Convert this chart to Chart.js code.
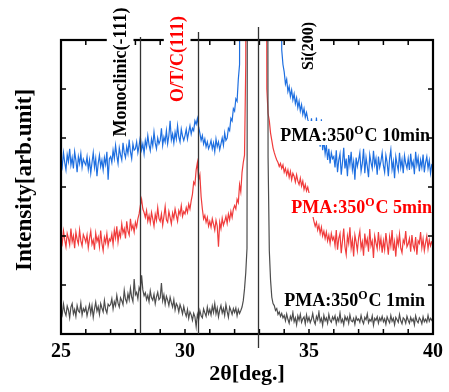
<!DOCTYPE html>
<html>
<head>
<meta charset="utf-8">
<script src="https://cdn.jsdelivr.net/npm/chart.js@4.4.1/dist/chart.umd.min.js"></script>
<style>
  html, body { margin: 0; padding: 0; background: #fff; }
</style>
</head>
<body>
<canvas id="chart" width="449" height="392"></canvas>
<script>
// 2theta sampling grid: 25.00 .. 40.00 in 0.05 deg steps
const thetaStart = 25;
const thetaStep = 0.05;
const xTickLabels = [25, 30, 35, 40];

// intensities (arb. units), one row per degree; 20 = off-scale Si peak
const pma1min = [
  0.52,0.40,0.61,0.45,0.38,0.57,0.49,0.33,0.55,0.62,0.41,0.50,0.36,0.58,0.47,0.44,0.63,0.39,0.52,0.46,
  0.55,0.37,0.49,0.60,0.42,0.58,0.34,0.51,0.65,0.47,0.56,0.40,0.62,0.53,0.45,0.68,0.50,0.43,0.61,0.57,
  0.60,0.72,0.51,0.66,0.58,0.79,0.63,0.55,0.74,0.68,0.60,0.89,0.71,0.64,0.82,0.70,0.93,0.75,0.66,1.12,
  0.80,0.85,0.72,0.95,0.88,1.20,0.90,0.78,0.84,0.70,0.79,0.66,0.88,0.74,0.69,0.81,0.62,0.76,0.85,0.70,
  0.74,1.04,0.68,0.80,0.61,0.77,0.69,0.58,0.75,0.64,0.55,0.70,0.49,0.62,0.57,0.45,0.60,0.52,0.41,0.56,
  0.44,0.36,0.50,0.32,0.45,0.39,0.28,0.42,0.35,0.15,0.40,0.30,0.48,0.37,0.33,0.51,0.43,0.36,0.55,0.41,
  0.50,0.39,0.57,0.44,0.62,0.41,0.53,0.35,0.49,0.58,0.43,0.52,0.38,0.60,0.46,0.34,0.55,0.48,0.40,0.52,
  0.44,0.53,0.37,0.50,0.42,0.48,0.55,0.68,0.92,1.25,1.75,20,20,20,20,20,20,20,20,20,
  20,20,20,20,20,20,20,3.60,1.70,1.10,0.75,0.62,0.58,0.48,0.52,0.40,0.45,0.36,0.42,0.33,
  0.38,0.27,0.41,0.30,0.22,0.36,0.29,0.44,0.25,0.33,0.19,0.37,0.28,0.40,0.24,0.31,0.35,0.21,0.39,0.26,
  0.34,0.23,0.30,0.42,0.27,0.20,0.36,0.29,0.45,0.25,0.32,0.18,0.38,0.27,0.33,0.22,0.40,0.28,0.24,0.35,
  0.29,0.37,0.21,0.33,0.26,0.43,0.24,0.30,0.19,0.36,0.28,0.34,0.22,0.39,0.27,0.25,0.32,0.20,0.35,0.28,
  0.31,0.24,0.38,0.27,0.21,0.34,0.29,0.41,0.23,0.30,0.26,0.37,0.18,0.32,0.28,0.35,0.22,0.33,0.27,0.36,
  0.25,0.31,0.20,0.35,0.28,0.23,0.38,0.26,0.32,0.19,0.34,0.29,0.24,0.40,0.27,0.21,0.33,0.30,0.22,0.36,
  0.28,0.22,0.34,0.26,0.31,0.19,0.37,0.27,0.23,0.33,0.29,0.21,0.35,0.25,0.30,0.24,0.38,0.26,0.32,0.28,
  0.34
];

const pma5min = [
  1.98,1.85,2.10,1.92,1.78,2.05,1.95,1.82,2.15,1.88,2.00,1.75,2.08,1.93,1.84,2.12,1.90,1.80,2.03,1.96,
  1.87,2.02,1.76,1.95,2.10,1.83,1.92,1.72,2.06,1.89,1.98,1.78,2.11,1.85,1.70,1.97,1.86,2.05,1.80,1.94,
  1.90,2.04,1.83,2.12,1.96,2.20,1.88,2.08,1.98,2.25,2.06,2.15,1.95,2.30,2.10,2.02,2.35,2.14,2.22,2.08,
  2.28,2.18,2.35,2.45,2.62,2.75,2.55,2.48,2.38,2.52,2.30,2.42,2.27,2.48,2.35,2.20,2.44,2.32,2.58,2.36,
  2.30,2.45,2.22,2.40,2.60,2.33,2.28,2.50,2.38,2.25,2.47,2.36,2.55,2.42,2.30,2.52,2.44,2.62,2.40,2.50,
  2.45,2.58,2.48,2.65,2.55,2.72,2.85,3.10,3.05,3.35,3.50,3.15,3.25,2.80,2.55,2.35,2.42,2.28,2.38,2.20,
  2.30,2.18,2.35,2.24,2.12,2.32,2.20,1.78,2.28,2.15,2.36,2.22,2.30,2.40,2.26,2.45,2.33,2.50,2.38,2.55,
  2.62,2.55,2.75,2.68,3.05,2.90,3.30,3.50,3.65,5.50,20,20,20,20,20,20,20,20,20,20,
  20,20,20,20,20,20,5.00,4.50,4.35,4.10,3.95,3.80,3.70,3.62,3.55,3.50,3.42,3.48,3.38,3.45,
  3.30,3.38,3.25,3.35,3.20,3.32,3.15,3.28,3.22,3.10,3.25,3.12,3.05,3.18,3.02,3.12,2.95,3.05,2.92,3.00,
  2.88,2.70,2.55,2.42,2.30,2.20,2.28,2.12,2.22,2.05,2.18,2.00,2.10,1.95,2.08,1.90,2.02,1.85,2.05,1.92,
  1.98,1.80,2.12,1.72,1.95,2.05,1.65,1.90,2.15,1.78,1.62,2.00,1.85,2.18,1.75,1.92,1.58,2.02,1.88,1.70,
  1.96,2.10,1.75,1.88,1.60,2.05,1.82,1.94,1.68,2.14,1.80,1.90,1.55,2.00,1.86,1.74,2.08,1.78,1.95,1.66,
  1.90,1.72,2.06,1.84,1.62,1.98,1.80,2.12,1.70,1.88,1.58,1.96,1.82,2.04,1.75,1.66,1.92,1.85,2.10,1.78,
  1.84,1.95,1.68,2.02,1.80,1.72,1.98,1.62,1.90,1.85,2.08,1.76,1.94,1.70,1.86,2.00,1.74,1.92,1.80,1.88,
  1.86
];

const pma10min = [
  3.58,3.42,3.70,3.50,3.35,3.66,3.52,3.78,3.45,3.60,3.38,3.72,3.55,3.30,3.62,3.48,3.68,3.40,3.57,3.50,
  3.45,3.62,3.36,3.55,3.28,3.50,3.70,3.40,3.58,3.22,3.48,3.65,3.42,3.55,3.35,3.60,3.46,3.72,3.15,3.58,
  3.62,3.50,3.75,3.58,3.85,3.64,3.48,3.80,3.66,3.55,3.90,3.70,3.60,3.82,3.68,3.95,3.72,3.58,3.88,3.75,
  3.78,3.92,3.70,3.85,4.02,3.76,3.88,3.68,3.95,3.82,4.05,3.86,3.74,3.98,3.84,4.12,3.90,3.78,4.00,3.88,
  3.95,4.20,3.85,4.02,3.92,4.15,3.88,4.05,4.35,3.96,4.08,3.90,4.12,3.98,4.25,4.02,3.92,4.18,4.04,3.95,
  4.05,4.18,3.98,4.12,4.25,4.08,4.20,4.15,4.35,4.28,4.40,4.22,4.10,3.95,4.05,3.88,3.98,3.82,3.92,3.78,
  3.85,3.95,3.78,3.90,3.72,3.98,3.82,3.92,3.76,3.88,4.00,3.85,4.10,3.95,4.00,4.20,4.15,4.40,4.35,4.60,
  4.55,4.80,4.75,5.20,5.50,20,20,20,20,20,20,20,20,20,20,20,20,20,20,20,
  20,20,20,20,20,20,20,20,20,20,20,20,20,20,20,20,20,20,5.80,5.50,
  5.35,5.10,5.20,4.95,5.05,4.85,4.98,4.78,4.90,4.70,4.82,4.62,4.75,4.55,4.68,4.48,4.60,4.42,4.52,4.38,
  4.30,4.15,4.40,4.05,4.22,3.98,4.42,3.90,4.10,3.82,4.38,3.75,3.95,3.68,3.85,3.55,3.78,3.48,3.70,3.58,
  3.62,3.40,3.75,3.30,3.55,3.68,3.25,3.50,3.80,3.38,3.58,3.22,3.65,3.45,3.72,3.35,3.52,3.15,3.60,3.42,
  3.55,3.70,3.32,3.48,3.78,3.28,3.60,3.42,3.20,3.66,3.50,3.38,3.74,3.45,3.58,3.25,3.62,3.40,3.52,3.70,
  3.44,3.30,3.65,3.50,3.22,3.58,3.76,3.36,3.52,3.18,3.62,3.46,3.34,3.70,3.40,3.56,3.28,3.64,3.48,3.38,
  3.58,3.35,3.68,3.42,3.52,3.26,3.72,3.45,3.60,3.32,3.55,3.40,3.66,3.30,3.50,3.62,3.38,3.54,3.28,3.46,
  3.48
];

// reflection markers
const peakNames = ['Monoclinic(-111)', 'O/T/C(111)', 'Si(200)'];
const peakTheta = [28.2, 30.52, 32.96];
const peakColors = ['#000000', '#ff0000', '#000000'];

// sample captions
const sampleNames = ['10min', '5min', '1min'];
const sampleColors = ['#000000', '#ff0000', '#000000'];

const SERIF = '"Liberation Serif", "Times New Roman", serif';

function toPoints(values) {
  return values.map((v, i) => ({ x: +(thetaStart + i * thetaStep).toFixed(2), y: v }));
}

function drawPma(ctx, right, baseline, name, color) {
  const big = 'bold 18px ' + SERIF;
  const small = 'bold 12px ' + SERIF;
  const head = 'PMA:350', tail = 'C ' + name;
  ctx.font = big;
  const w1 = ctx.measureText(head).width;
  const w3 = ctx.measureText(tail).width;
  ctx.font = small;
  const w2 = ctx.measureText('O').width + 1;
  const left = right - (w1 + w2 + w3);
  ctx.fillStyle = '#fff';
  ctx.fillRect(left - 2, baseline - 20, w1 + w2 + w3 + 3, 24);
  ctx.fillStyle = color;
  ctx.textAlign = 'left';
  ctx.textBaseline = 'alphabetic';
  ctx.font = big;
  ctx.fillText(head, left, baseline);
  ctx.font = small;
  ctx.fillText('O', left + w1, baseline - 7);
  ctx.font = big;
  ctx.fillText(tail, left + w1 + w2, baseline);
}

function drawPeakLabel(ctx, baseX, centerY, text, color, size) {
  ctx.save();
  ctx.translate(baseX, centerY);
  ctx.rotate(-Math.PI / 2);
  ctx.font = 'bold ' + size + 'px ' + SERIF;
  const w = ctx.measureText(text).width;
  ctx.fillStyle = '#fff';
  ctx.fillRect(-w / 2 - 3, -size * 0.9 - 3, w + 6, size * 1.15 + 6);
  ctx.fillStyle = color;
  ctx.textAlign = 'center';
  ctx.textBaseline = 'alphabetic';
  ctx.fillText(text, 0, 0);
  ctx.restore();
}

const decorations = {
  id: 'decorations',
  afterDatasetsDraw(chart) {
    const { ctx, chartArea: a, scales } = chart;
    const x = scales.x, y = scales.y;
    ctx.save();

    // sample captions (white box over the traces)
    const capY = [141, 213, 306];
    const capRight = [430, 432, 425];
    sampleNames.forEach((n, i) => drawPma(ctx, capRight[i], capY[i], n, sampleColors[i]));

    // frame and inward ticks
    ctx.strokeStyle = '#000';
    ctx.lineWidth = 2.2;
    ctx.strokeRect(a.left, a.top, a.right - a.left, a.bottom - a.top);
    ctx.lineWidth = 1.5;
    ctx.beginPath();
    for (let t = 26; t < 40; t++) {
      const px = x.getPixelForValue(t);
      ctx.moveTo(px, a.bottom); ctx.lineTo(px, a.bottom - 5);
      ctx.moveTo(px, a.top); ctx.lineTo(px, a.top + 5);
    }
    for (let v = 1; v < 6; v++) {
      const py = y.getPixelForValue(v);
      ctx.moveTo(a.left, py); ctx.lineTo(a.left + 5, py);
      ctx.moveTo(a.right, py); ctx.lineTo(a.right - 5, py);
    }
    ctx.stroke();

    // reflection lines
    const lineTop = [37, 32, 27];
    const lineBottom = [a.bottom, a.bottom, a.bottom + 14];
    ctx.strokeStyle = '#333';
    ctx.lineWidth = 1.3;
    peakTheta.forEach((t, i) => {
      const px = Math.round(x.getPixelForValue(t)) + 0.5;
      ctx.beginPath();
      ctx.moveTo(px, lineTop[i]);
      ctx.lineTo(px, lineBottom[i]);
      ctx.stroke();
    });

    // reflection names, rotated, on white
    const nameBase = [126, 183, 313];
    const nameMid = [72, 59, 46];
    const nameSize = [18, 18, 16];
    peakNames.forEach((n, i) => drawPeakLabel(ctx, nameBase[i], nameMid[i], n, peakColors[i], nameSize[i]));

    // y-axis title
    ctx.save();
    ctx.translate(31, 180);
    ctx.rotate(-Math.PI / 2);
    ctx.font = 'bold 23px ' + SERIF;
    ctx.fillStyle = '#000';
    ctx.textAlign = 'center';
    ctx.fillText('Intensity[arb.unit]', 0, 0);
    ctx.restore();

    ctx.restore();
  }
};

new Chart(document.getElementById('chart'), {
  type: 'line',
  data: {
    datasets: [
      { data: toPoints(pma1min), borderColor: '#4d4d4d' },
      { data: toPoints(pma5min), borderColor: '#f03c3c' },
      { data: toPoints(pma10min), borderColor: '#1e6fe0' }
    ]
  },
  options: {
    responsive: false,
    animation: false,
    elements: {
      point: { radius: 0 },
      line: { borderWidth: 1.2, tension: 0 }
    },
    layout: { padding: { left: 61, right: 15, top: 40, bottom: 0 } },
    plugins: { legend: { display: false }, tooltip: { enabled: false } },
    scales: {
      x: {
        type: 'linear',
        min: 25,
        max: 40,
        grid: { display: false, drawTicks: false },
        border: { display: false },
        afterFit: s => { s.height = 58; },
        ticks: {
          stepSize: 5,
          padding: 6,
          color: '#000',
          font: { family: SERIF, size: 20, weight: 'bold' },
          callback: v => xTickLabels.includes(v) ? String(v) : ''
        },
        title: {
          display: true,
          text: '2θ[deg.]',
          color: '#000',
          padding: { top: 0, bottom: 4 },
          font: { family: SERIF, size: 22, weight: 'bold' }
        }
      },
      y: {
        min: 0,
        max: 6,
        display: false
      }
    }
  },
  plugins: [decorations]
});
</script>
</body>
</html>
